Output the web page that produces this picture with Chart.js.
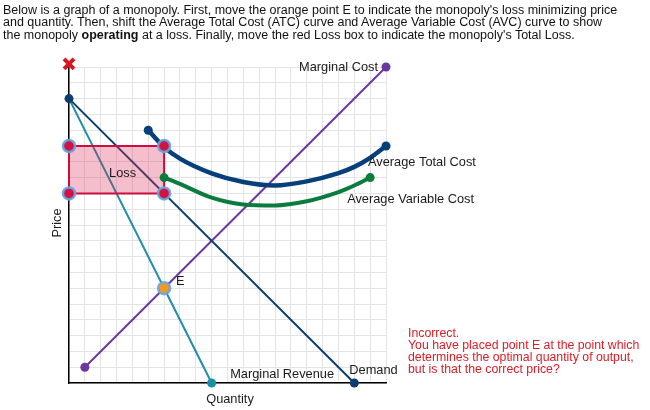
<!DOCTYPE html>
<html>
<head>
<meta charset="utf-8">
<script src="https://cdn.jsdelivr.net/npm/chart.js@4"></script>
<style>
  body { margin: 0; background: #fff; }
  #wrap { position: relative; width: 650px; height: 410px; }
  #chart { position: absolute; left: 0; top: 0; }
  .txt { position: absolute; font-family: "Liberation Sans", Arial, sans-serif; }
  #intro { left: 3px; top: 4px; font-size: 12.5px; line-height: 12.4px; color: #111; white-space: nowrap; }
  #msg { left: 408px; top: 327px; font-size: 12.3px; line-height: 12px; color: #dc1c26; white-space: nowrap; }
</style>
</head>
<body>
<div id="wrap">
  <canvas id="chart" width="650" height="410"></canvas>
  <div id="intro" class="txt">Below is a graph of a monopoly. First, move the orange point E to indicate the monopoly's loss minimizing price<br>and quantity. Then, shift the Average Total Cost (ATC) curve and Average Variable Cost (AVC) curve to show<br>the monopoly <b>operating</b> at a loss. Finally, move the red Loss box to indicate the monopoly's Total Loss.</div>
  <div id="msg" class="txt">Incorrect.<br>You have placed point E at the point which<br>determines the optimal quantity of output,<br>but is that the correct price?</div>
</div>
<script>
// curves as [quantity, price] pairs
const demandPts = [[0, 18], [18, 0]];
const mrPts = [[0, 18], [9, 0]];
const mcPts = [[1, 1], [20, 20]];
const atcPts = [[5, 16], [6, 14.93], [7, 14.2], [9, 13.27], [11, 12.72], [13, 12.5], [15, 12.76], [17, 13.28], [18, 13.68], [19, 14.25], [20, 15]];
const avcPts = [[6, 13], [7, 12.6], [9, 11.73], [11, 11.3], [13, 11.24], [15, 11.5], [17, 12.08], [18, 12.5], [19, 13]];
const lossQ = [0, 6];
const lossP = [12, 15];
const pointE = [6, 6];
const axisMax = 20;

const toXY = arr => arr.map(([x, y]) => ({ x, y }));
const ends = n => ctx => (ctx.dataIndex === 0 || ctx.dataIndex === n - 1) ? 4.5 : 0;

const boxPts = [[lossQ[0], lossP[0]], [lossQ[0], lossP[1]], [lossQ[1], lossP[1]], [lossQ[1], lossP[0]], [lossQ[0], lossP[0]]];
const cornerPts = [[lossQ[0], lossP[1]], [lossQ[1], lossP[1]], [lossQ[0], lossP[0]], [lossQ[1], lossP[0]]];

const FONT = '12.8px "Liberation Sans", Arial, sans-serif';

const labelPlugin = {
    id: 'labels',
    afterDatasetsDraw(chart) {
        const { ctx, scales: { x, y } } = chart;
        const px = v => x.getPixelForValue(v);
        const py = v => y.getPixelForValue(v);
        const put = (text, xx, yy, align) => {
            ctx.textAlign = align;
            ctx.fillText(text, xx, yy);
        };
        ctx.save();
        ctx.font = FONT;
        ctx.fillStyle = '#1a1a1a';
        ctx.textBaseline = 'middle';
        put('Marginal Cost', px(mcPts[1][0]) - 8, py(mcPts[1][1]), 'right');
        put('Average Total Cost', px(atcPts[atcPts.length - 1][0]) - 18, py(atcPts[atcPts.length - 1][1]) + 16, 'left');
        put('Average Variable Cost', px(avcPts[avcPts.length - 1][0]) - 23, py(avcPts[avcPts.length - 1][1]) + 22, 'left');
        put('Loss', (px(lossQ[0]) + px(lossQ[1])) / 2 + 6, (py(lossP[0]) + py(lossP[1])) / 2 + 4, 'center');
        put('E', px(pointE[0]) + 12, py(pointE[1]) - 6.5, 'left');
        put('Marginal Revenue', px(mrPts[1][0]) + 18.5, py(mrPts[1][1]) - 9, 'left');
        put('Demand', px(demandPts[1][0]) - 5, py(demandPts[1][1]) - 13, 'left');
        put('Quantity', 230, 399, 'center');
        ctx.translate(57, 223);
        ctx.rotate(-Math.PI / 2);
        put('Price', 0, 0, 'center');
        ctx.restore();
    }
};

const ctx = document.getElementById('chart').getContext('2d');

new Chart(ctx, {
    type: 'scatter',
    data: {
        datasets: [
            {
                label: 'corners',
                data: toXY(cornerPts),
                pointRadius: 6,
                pointBorderWidth: 2.5,
                pointBackgroundColor: '#d3123d',
                pointBorderColor: 'rgba(100, 165, 232, 0.9)',
                order: 0
            },
            {
                label: 'E',
                data: toXY([pointE]),
                pointRadius: 6,
                pointBorderWidth: 2.5,
                pointBackgroundColor: '#f49a1f',
                pointBorderColor: 'rgba(100, 165, 232, 0.9)',
                order: 0
            },
            {
                label: 'remove',
                data: [{ x: 0, y: axisMax + 0.2 }],
                pointStyle: 'crossRot',
                pointRadius: 7,
                pointBorderWidth: 4,
                pointBorderColor: '#d61620',
                order: 0
            },
            {
                label: 'ATC',
                data: toXY(atcPts),
                showLine: true,
                cubicInterpolationMode: 'monotone',
                borderColor: '#063f7a',
                borderWidth: 4.5,
                pointRadius: ends(atcPts.length),
                pointBackgroundColor: '#063f7a',
                pointBorderWidth: 0,
                order: 1
            },
            {
                label: 'AVC',
                data: toXY(avcPts),
                showLine: true,
                cubicInterpolationMode: 'monotone',
                borderColor: '#0b7c3d',
                borderWidth: 4,
                pointRadius: ends(avcPts.length),
                pointBackgroundColor: '#0b7c3d',
                pointBorderWidth: 0,
                order: 1
            },
            {
                label: 'Loss',
                data: toXY(boxPts),
                showLine: true,
                fill: 'shape',
                backgroundColor: 'rgba(222, 40, 85, 0.3)',
                borderColor: '#cc0d3d',
                borderWidth: 2,
                pointRadius: 0,
                order: 2
            },
            {
                label: 'Demand',
                data: toXY(demandPts),
                showLine: true,
                borderColor: '#0c3d6e',
                borderWidth: 2,
                pointRadius: 4.5,
                pointBackgroundColor: '#0c3d6e',
                pointBorderWidth: 0,
                order: 3
            },
            {
                label: 'Marginal Revenue',
                data: toXY(mrPts),
                showLine: true,
                borderColor: '#1c8fa6',
                borderWidth: 2,
                pointRadius: [0, 4.5],
                pointBackgroundColor: '#1c8fa6',
                pointBorderWidth: 0,
                order: 4
            },
            {
                label: 'Marginal Cost',
                data: toXY(mcPts),
                showLine: true,
                borderColor: '#6a38a0',
                borderWidth: 2,
                pointRadius: 4.5,
                pointBackgroundColor: '#6a38a0',
                pointBorderWidth: 0,
                order: 3
            }
        ]
    },
    options: {
        responsive: false,
        animation: false,
        datasets: {
            scatter: { clip: false }
        },
        layout: {
            padding: { left: 69, top: 67, right: 264, bottom: 27 }
        },
        plugins: {
            legend: { display: false },
            tooltip: { enabled: false }
        },
        scales: {
            x: {
                type: 'linear',
                min: 0,
                max: axisMax,
                ticks: { display: false, stepSize: 1 },
                grid: { color: '#e4e4e4', lineWidth: 1, drawTicks: false },
                border: { color: '#000', width: 1.5 },
                afterFit: s => { s.height = 0; }
            },
            y: {
                type: 'linear',
                min: 0,
                max: axisMax,
                ticks: { display: false, stepSize: 1 },
                grid: { color: '#e4e4e4', lineWidth: 1, drawTicks: false },
                border: { color: '#000', width: 1.5 },
                afterFit: s => { s.width = 0; }
            }
        }
    },
    plugins: [labelPlugin]
});
</script>
</body>
</html>
